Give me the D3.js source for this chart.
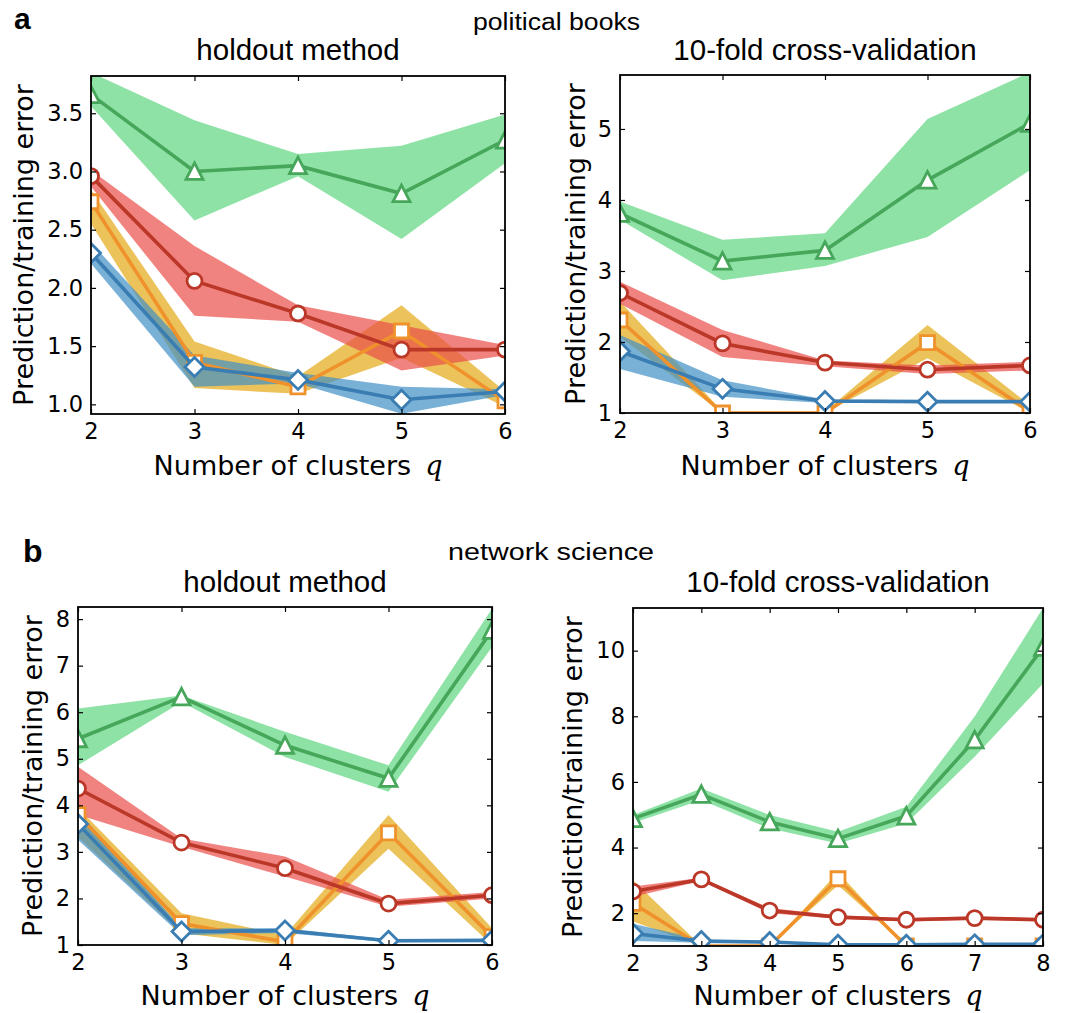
<!DOCTYPE html>
<html>
<head>
<meta charset="utf-8">
<script src="https://cdn.jsdelivr.net/npm/d3@7"></script>
<style>
  body { margin: 0; background: #fff; }
  .tick text { font-family: "DejaVu Sans", sans-serif; font-size: 22.5px; fill: #000; }
  .tick line { stroke: #000; stroke-width: 1.2; }
  .domain { display: none; }
</style>
</head>
<body>
<div id="chart"></div>
<script>
const qShort = [2, 3, 4, 5, 6];
const qLong = [2, 3, 4, 5, 6, 7, 8];

// every point is [mean, low, high]
// political books - holdout
const pbHoldTri  = [[3.66, 3.56, 3.85], [3.00, 2.58, 3.44], [3.05, 2.96, 3.15], [2.81, 2.42, 3.22], [3.27, 3.07, 3.49]];
const pbHoldCirc = [[2.96, 2.87, 3.01], [2.06, 1.76, 2.36], [1.78, 1.71, 1.85], [1.47, 1.29, 1.68], [1.47, 1.42, 1.51]];
const pbHoldSq   = [[2.74, 2.55, 2.84], [1.36, 1.14, 1.54], [1.15, 1.09, 1.24], [1.63, 1.40, 1.85], [1.03, 0.98, 1.11]];
const pbHoldDia  = [[2.30, 2.21, 2.39], [1.32, 1.15, 1.42], [1.21, 1.18, 1.27], [1.04, 0.92, 1.15], [1.11, 1.08, 1.13]];

// political books - 10-fold cv
const pbCvTri  = [[3.81, 3.72, 3.98], [3.14, 2.87, 3.44], [3.29, 3.07, 3.53], [4.28, 3.48, 5.14], [5.08, 4.42, 5.80]];
const pbCvCirc = [[2.69, 2.54, 2.85], [1.98, 1.79, 2.17], [1.71, 1.66, 1.74], [1.61, 1.55, 1.67], [1.67, 1.60, 1.72]];
const pbCvSq   = [[2.31, 2.07, 2.57], [1.00, 1.00, 1.02], [1.00, 1.00, 1.02], [1.99, 1.77, 2.24], [1.02, 1.00, 1.11]];
const pbCvDia  = [[1.87, 1.62, 2.10], [1.34, 1.23, 1.46], [1.17, 1.14, 1.19], [1.16, 1.14, 1.18], [1.16, 1.14, 1.18]];

// network science - holdout
const nsHoldTri  = [[5.43, 4.86, 6.08], [6.33, 6.22, 6.36], [5.29, 5.04, 5.58], [4.58, 4.29, 4.86], [7.76, 7.40, 8.22]];
const nsHoldCirc = [[4.36, 3.80, 4.83], [3.20, 3.11, 3.29], [2.65, 2.47, 2.90], [1.89, 1.82, 1.97], [2.07, 2.00, 2.14]];
const nsHoldSq   = [[3.80, 3.32, 3.95], [1.46, 1.25, 1.68], [1.07, 1.00, 1.21], [3.41, 3.07, 3.79], [1.18, 1.00, 1.36]];
const nsHoldDia  = [[3.60, 3.26, 3.88], [1.29, 1.21, 1.36], [1.31, 1.26, 1.36], [1.09, 1.06, 1.12], [1.10, 1.07, 1.13]];

// network science - 10-fold cv
const nsCvTri  = [[4.88, 4.75, 4.99], [5.62, 5.45, 5.80], [4.78, 4.58, 4.99], [4.27, 4.12, 4.48], [4.96, 4.73, 5.24], [7.28, 6.77, 7.99], [10.1, 9.0, 11.3]];
const nsCvCirc = [[2.66, 2.50, 2.81], [3.03, 2.98, 3.08], [2.08, 2.00, 2.16], [1.88, 1.83, 1.93], [1.80, 1.75, 1.85], [1.85, 1.80, 1.90], [1.80, 1.75, 1.85]];
const nsCvSq   = [[2.30, 1.75, 3.00], [1.00, 1.00, 1.00], [1.00, 1.00, 1.00], [3.05, 2.85, 3.25], [1.00, 1.00, 1.00], [1.00, 1.00, 1.00], [1.00, 1.00, 1.00]];
const nsCvDia  = [[1.38, 1.15, 1.68], [1.15, 1.10, 1.20], [1.12, 1.08, 1.15], [1.04, 1.02, 1.06], [1.04, 1.02, 1.06], [1.05, 1.03, 1.07], [1.05, 1.03, 1.07]];

const pbHoldTicks = [1.0, 1.5, 2.0, 2.5, 3.0, 3.5];
const pbCvTicks = [1, 2, 3, 4, 5];
const nsHoldTicks = [1, 2, 3, 4, 5, 6, 7, 8];
const nsCvTicks = [2, 4, 6, 8, 10];

const styles = {
  sq:   { line: "#f0922c", band: "#e4a916", shape: "M-7,-7H7V7H-7Z" },
  dia:  { line: "#3a7db3", band: "#4090c4", shape: "M0,-9.5L9.5,0L0,9.5L-9.5,0Z" },
  circ: { line: "#bb3828", band: "#ea4e49", shape: null },
  tri:  { line: "#46a65a", band: "#5ed67f", shape: "M0,-8.5L8.5,8L-8.5,8Z" }
};
const drawOrder = ["sq", "dia", "circ", "tri"];

const width = 1084;
const height = 1013;

const svg = d3.select("#chart")
              .append("svg")
              .attr("width", width)
              .attr("height", height);

function drawPanel(p, id){
  const w = p.right - p.left;
  const h = p.bottom - p.top;
  const x = d3.scaleLinear().domain([p.qs[0], p.qs[p.qs.length - 1]]).range([0, w]);
  const y = d3.scaleLinear().domain(p.yDomain).range([h, 0]);

  const g = svg.append("g").attr("transform", `translate(${p.left},${p.top})`);

  g.append("clipPath").attr("id", id)
   .append("rect").attr("width", w).attr("height", h);

  const plot = g.append("g").attr("clip-path", `url(#${id})`);

  const area = d3.area()
                 .x((d, i) => x(p.qs[i]))
                 .y0(d => y(d[1]))
                 .y1(d => y(d[2]));
  const line = d3.line()
                 .x((d, i) => x(p.qs[i]))
                 .y(d => y(d[0]));

  drawOrder.forEach(k => {
    plot.append("path")
        .attr("d", area(p.series[k]))
        .attr("fill", styles[k].band)
        .attr("fill-opacity", 0.7);
  });

  drawOrder.forEach(k => {
    plot.append("path")
        .attr("d", line(p.series[k]))
        .attr("fill", "none")
        .attr("stroke", styles[k].line)
        .attr("stroke-width", 3.6);

    const marks = plot.selectAll(null)
                      .data(p.series[k])
                      .enter();
    if(k === "circ"){
      marks.append("circle")
           .attr("cx", (d, i) => x(p.qs[i]))
           .attr("cy", d => y(d[0]))
           .attr("r", 7.5)
           .attr("fill", "#fff")
           .attr("stroke", styles[k].line)
           .attr("stroke-width", 2.8);
    }
    else{
      marks.append("path")
           .attr("d", styles[k].shape)
           .attr("transform", (d, i) => `translate(${x(p.qs[i])},${y(d[0])})`)
           .attr("fill", "#fff")
           .attr("stroke", styles[k].line)
           .attr("stroke-width", 2.8);
    }
  });

  // ticks point inward on all four sides
  g.append("g")
   .attr("transform", `translate(0,${h})`)
   .call(d3.axisBottom(x).tickValues(p.qs).tickFormat(d3.format("d")).tickSize(-5).tickPadding(9));
  g.append("g")
   .call(d3.axisTop(x).tickValues(p.qs).tickFormat("").tickSize(-5));
  g.append("g")
   .call(d3.axisLeft(y).tickValues(p.yTicks).tickFormat(d3.format(p.yFormat)).tickSize(-5).tickPadding(8));
  g.append("g")
   .attr("transform", `translate(${w},0)`)
   .call(d3.axisRight(y).tickValues(p.yTicks).tickFormat("").tickSize(-5));

  g.append("rect")
   .attr("width", w)
   .attr("height", h)
   .attr("fill", "none")
   .attr("stroke", "#000")
   .attr("stroke-width", 1.8);

  svg.append("text")
     .attr("x", (p.left + p.right) / 2)
     .attr("y", p.titleY)
     .attr("text-anchor", "middle")
     .style("font-family", "'Liberation Sans', Arial, sans-serif")
     .style("font-size", "29.5px")
     .text(p.title);

  const xl = svg.append("text")
                .attr("x", (p.left + p.right) / 2)
                .attr("y", p.xLabelY)
                .attr("text-anchor", "middle")
                .style("font-family", "'DejaVu Sans', sans-serif")
                .style("font-size", "27px");
  xl.append("tspan").text("Number of clusters");
  xl.append("tspan")
    .attr("dx", 14)
    .style("font-family", "'DejaVu Serif', serif")
    .style("font-style", "italic")
    .text("q");

  svg.append("text")
     .attr("transform", `translate(${p.yLabelX},${(p.top + p.bottom) / 2}) rotate(-90)`)
     .attr("text-anchor", "middle")
     .style("font-family", "'DejaVu Sans', sans-serif")
     .style("font-size", "27px")
     .text("Prediction/training error");
}

drawPanel({
  left: 91, right: 505, top: 76, bottom: 414,
  qs: qShort, yDomain: [0.917, 3.82], yTicks: pbHoldTicks, yFormat: ".1f",
  series: { tri: pbHoldTri, circ: pbHoldCirc, sq: pbHoldSq, dia: pbHoldDia },
  title: "holdout method", titleY: 60, xLabelY: 475, yLabelX: 33
}, "clip-a1");

drawPanel({
  left: 620, right: 1030, top: 75, bottom: 413,
  qs: qShort, yDomain: [1, 5.76], yTicks: pbCvTicks, yFormat: "d",
  series: { tri: pbCvTri, circ: pbCvCirc, sq: pbCvSq, dia: pbCvDia },
  title: "10-fold cross-validation", titleY: 60, xLabelY: 475, yLabelX: 585
}, "clip-a2");

drawPanel({
  left: 78, right: 492, top: 607, bottom: 945,
  qs: qShort, yDomain: [1, 8.26], yTicks: nsHoldTicks, yFormat: "d",
  series: { tri: nsHoldTri, circ: nsHoldCirc, sq: nsHoldSq, dia: nsHoldDia },
  title: "holdout method", titleY: 592, xLabelY: 1005, yLabelX: 42
}, "clip-b1");

drawPanel({
  left: 633, right: 1043, top: 608, bottom: 946,
  qs: qLong, yDomain: [1, 11.3], yTicks: nsCvTicks, yFormat: "d",
  series: { tri: nsCvTri, circ: nsCvCirc, sq: nsCvSq, dia: nsCvDia },
  title: "10-fold cross-validation", titleY: 592, xLabelY: 1005, yLabelX: 582
}, "clip-b2");

// panel letters and dataset headings
svg.append("text")
   .attr("x", 14).attr("y", 29)
   .style("font-family", "'Liberation Sans', Arial, sans-serif")
   .style("font-weight", "bold")
   .style("font-size", "30px")
   .text("a");
svg.append("text")
   .attr("x", 23).attr("y", 562)
   .style("font-family", "'Liberation Sans', Arial, sans-serif")
   .style("font-weight", "bold")
   .style("font-size", "32px")
   .text("b");
svg.append("text")
   .attr("x", 473).attr("y", 30)
   .attr("textLength", 167)
   .attr("lengthAdjust", "spacingAndGlyphs")
   .style("font-family", "'Liberation Sans', Arial, sans-serif")
   .style("font-size", "23px")
   .text("political books");
svg.append("text")
   .attr("x", 448).attr("y", 560)
   .attr("textLength", 206)
   .attr("lengthAdjust", "spacingAndGlyphs")
   .style("font-family", "'Liberation Sans', Arial, sans-serif")
   .style("font-size", "23px")
   .text("network science");
</script>
</body>
</html>
